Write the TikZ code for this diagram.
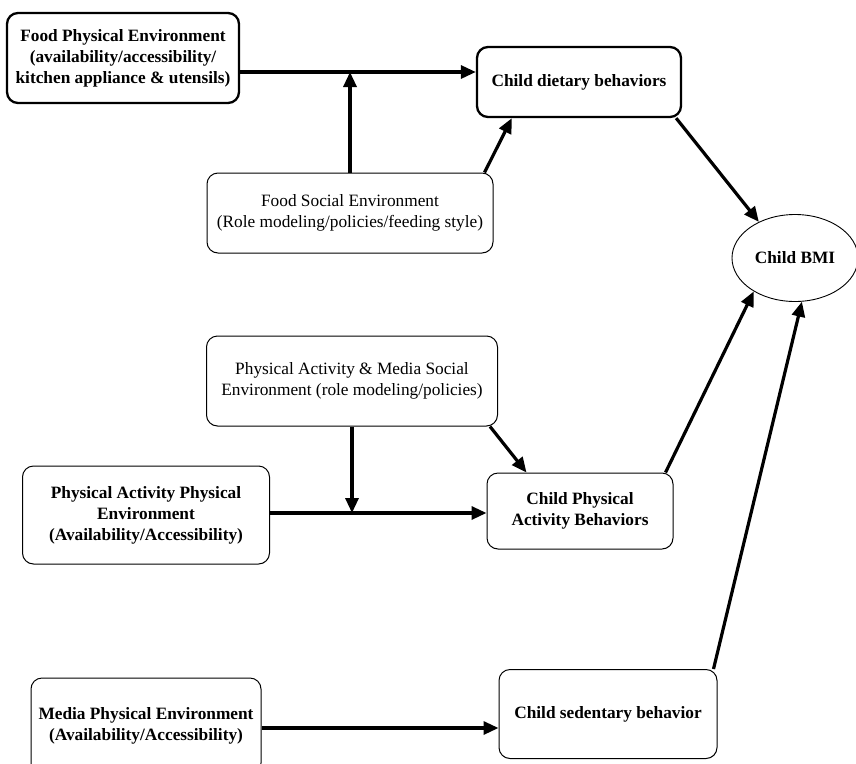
\documentclass[tikz,border=0pt]{standalone}
\usepackage{fontspec}
\setmainfont{Liberation Serif}
\usetikzlibrary{arrows.meta,positioning,shapes.geometric}
\tikzset{
  envbox/.style={draw, rounded corners=11pt, align=center, inner sep=0pt,
    line width=1pt, font=\fontsize{17.3}{21}\selectfont},
  boldbox/.style={envbox, font=\fontsize{17.3}{21}\selectfont\bfseries},
  thickbox/.style={boldbox, line width=2.3pt},
  outcome/.style={draw, ellipse, inner sep=0pt, line width=0.9pt,
    font=\fontsize{17.3}{21}\selectfont\bfseries},
  link/.style={-{Triangle[length=15pt,width=13pt]}, line width=3.2pt}
}

\begin{document}
\begin{tikzpicture}[x=1pt,y=-1pt]
\useasboundingbox (0,0) rectangle (856,763);
% food
\node[thickbox, minimum width=232pt, minimum height=90pt] (foodphys) at (123,58)
  {Food Physical Environment\\(availability/accessibility/\\kitchen appliance \& utensils)};
\node[thickbox, minimum width=204pt, minimum height=70pt] (dietary) at (579,82)
  {Child dietary behaviors};
\node[envbox, minimum width=286pt, minimum height=80pt] (foodsocial) at (350,213)
  {Food Social Environment\\(Role modeling/policies/feeding style)};
% outcome
\node[outcome, minimum width=126pt, minimum height=87pt] (bmi) at (795,258) {Child BMI};
% physical activity
\node[envbox, minimum width=291pt, minimum height=90pt] (pasocial) at (352,381)
  {Physical Activity \& Media Social\\Environment (role modeling/policies)};
\node[boldbox, minimum width=247pt, minimum height=98pt] (paphys) at (146,515)
  {Physical Activity Physical\\Environment\\(Availability/Accessibility)};
\node[boldbox, minimum width=186pt, minimum height=76pt] (activity) at (580,511)
  {Child Physical\\Activity Behaviors};
% media
\node[boldbox, minimum width=230pt, minimum height=96pt] (mediaphys) at (146,726)
  {Media Physical Environment\\(Availability/Accessibility)};
\node[boldbox, minimum width=218pt, minimum height=89pt] (sedentary) at (608,714)
  {Child sedentary behavior};

\coordinate (foodjoin) at (350,72);
\coordinate (pajoin) at (352,513);
\coordinate (mediajoin) at (380,728);

\draw[link] (foodjoin -| foodphys.east) -- (foodjoin -| dietary.west);
\draw[link] (foodsocial.north) -- (foodjoin);
\draw[link] ([xshift=-9pt]foodsocial.north east) -- ([xshift=36pt]dietary.south west);
\draw[link] ([xshift=-6pt]dietary.south east) -- (bmi.135);

\draw[link] (pajoin -| paphys.east) -- (pajoin -| activity.west);
\draw[link] (pasocial.south) -- (pajoin);
\draw[link] ([xshift=-8pt]pasocial.south east) -- ([xshift=40pt]activity.north west);
\draw[link] ([xshift=-8pt]activity.north east) -- (bmi.219);

\draw[link] (mediajoin -| mediaphys.east) -- (mediajoin -| sedentary.west);
\draw[link] ([xshift=-4pt]sedentary.north east) -- (bmi.279);
\end{tikzpicture}
\end{document}
